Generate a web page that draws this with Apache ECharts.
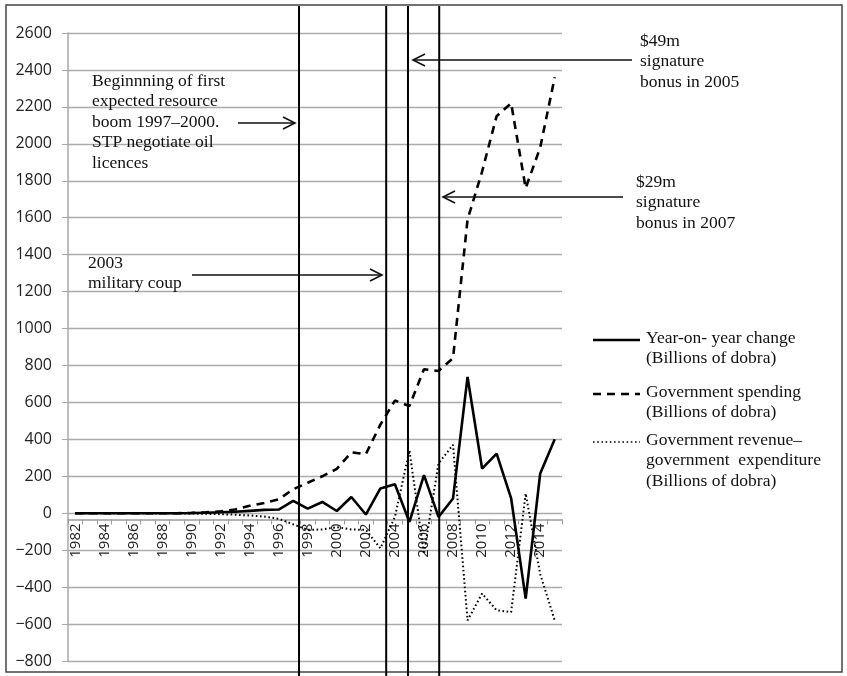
<!DOCTYPE html>
<html>
<head>
<meta charset="utf-8">
<script src="https://cdn.jsdelivr.net/npm/echarts@6/dist/echarts.min.js"></script>
<style>
  html, body { margin: 0; padding: 0; background: #fff; }
  #chart { width: 847px; height: 676px; }
</style>
</head>
<body>
<div id="chart"></div>
<script>
const years = ['1982', '1983', '1984', '1985', '1986', '1987', '1988', '1989', '1990', '1991',
  '1992', '1993', '1994', '1995', '1996', '1997', '1998', '1999', '2000', '2001', '2002',
  '2003', '2004', '2005', '2006', '2007', '2008', '2009', '2010', '2011', '2012', '2013',
  '2014', '2015'];

// Year-on-year change (billions of dobra)
const yoyChange = [0, 0, 0, 0, 0, 0, 0, 0, 1, 3,
  5, 8, 13, 18, 20, 67, 25, 61, 12, 88, -7,
  134, 157, -47, 206, -20, 80, 738, 242, 323, 80, -462,
  215, 400];

// Government spending (billions of dobra)
const govSpending = [0, 0, 0, 0, 0, 0, 0, 0, 2, 5,
  10, 20, 40, 55, 75, 130, 165, 200, 240, 330, 320,
  480, 610, 580, 780, 770, 840, 1590, 1850, 2150, 2220, 1760,
  1980, 2360];

// Government revenue - government expenditure (billions of dobra)
const revMinusExp = [0, 0, 0, 0, 0, 0, 0, 0, -2, -3,
  -5, -8, -12, -18, -30, -60, -90, -88, -75, -88, -90,
  -190, -20, 340, -220, 270, 370, -580, -435, -525, -535, 107,
  -330, -580];

const yTicks = { min: -800, max: 2600, step: 200 };

// event markers (fractional years where the vertical lines sit)
const markerYears = [1997.4, 2003.4, 2004.9, 2007.05];

const serif = '"Liberation Serif", "Times New Roman", serif';
const sans = '"Open Sans", "Liberation Sans", sans-serif';

const chart = echarts.init(document.getElementById('chart'));

function textBlock(x, y, lines) {
  return {
    type: 'text',
    x: x,
    y: y,
    z: 100,
    style: {
      text: lines.join('\n'),
      font: '17.5px ' + serif,
      lineHeight: 20.5,
      fill: '#111',
      textVerticalAlign: 'top',
    },
  };
}

function arrow(x1, x2, y) {
  // arrow from x1 to x2 with an open head at x2
  const dir = x2 > x1 ? 1 : -1;
  return [{
    type: 'line',
    z: 100,
    shape: { x1: x1, y1: y, x2: x2, y2: y },
    style: { stroke: '#111', lineWidth: 1.6 },
  }, {
    type: 'polyline',
    z: 100,
    shape: { points: [[x2 - dir * 12, y - 6], [x2, y], [x2 - dir * 12, y + 6]] },
    style: { stroke: '#111', lineWidth: 1.6, fill: null },
  }];
}

function legendItem(y, lineType, width, lines) {
  return [{
    type: 'line',
    z: 100,
    shape: { x1: 593, y1: y, x2: 640, y2: y },
    style: { stroke: '#000', lineWidth: width, lineDash: lineType },
  }, textBlock(646, y - 12, lines)];
}

const option = {
  animation: false,
  backgroundColor: '#fff',
  grid: {
    left: 68,
    right: 285,
    top: 33,
    bottom: 15,
    containLabel: false,
  },
  xAxis: {
    type: 'category',
    data: years,
    boundaryGap: true,
    position: 'bottom',
    offset: 0,
    axisLine: {
      onZero: false,
      lineStyle: { color: '#9a9a9a', width: 1.5 },
    },
    axisTick: {
      show: true,
      interval: 0,
      length: 5,
      lineStyle: { color: '#9a9a9a' },
    },
    axisLabel: {
      interval: 1,
      rotate: 90,
      margin: 4,
      color: '#222',
      fontSize: 15,
      fontFamily: sans,
    },
    splitLine: { show: false },
  },
  yAxis: {
    type: 'value',
    min: yTicks.min,
    max: yTicks.max,
    interval: yTicks.step,
    axisLine: {
      show: true,
      onZero: false,
      lineStyle: { color: '#a8a8a8', width: 1.5 },
    },
    axisTick: {
      show: true,
      length: 6,
      lineStyle: { color: '#a8a8a8' },
    },
    axisLabel: {
      margin: 16,
      color: '#222',
      fontSize: 16,
      fontFamily: sans,
      formatter: function (v) {
        return v < 0 ? '\u2212' + Math.abs(v) : String(v);
      },
    },
    splitLine: {
      show: true,
      lineStyle: { color: '#ababab', width: 1.3 },
    },
  },
  series: [{
    name: 'Year-on- year change (Billions of dobra)',
    type: 'line',
    data: yoyChange,
    showSymbol: false,
    symbol: 'none',
    lineStyle: { color: '#000', width: 2.6 },
    z: 5,
  }, {
    name: 'Government spending (Billions of dobra)',
    type: 'line',
    data: govSpending,
    showSymbol: false,
    symbol: 'none',
    lineStyle: { color: '#000', width: 2.6, type: [8, 6] },
    z: 4,
  }, {
    name: 'Government revenue\u2013government expenditure (Billions of dobra)',
    type: 'line',
    data: revMinusExp,
    showSymbol: false,
    symbol: 'none',
    lineStyle: { color: '#000', width: 2, type: [1.6, 2.6] },
    z: 3,
  }],
};

chart.setOption(option);

// lift the category axis (line, ticks and labels) up to the zero line
const zeroPx = chart.convertToPixel({ yAxisIndex: 0 }, 0);
const bottomPx = chart.convertToPixel({ yAxisIndex: 0 }, yTicks.min);
chart.setOption({ xAxis: { offset: zeroPx - bottomPx } });

// pixel x for a fractional year, interpolated between category centres
function yearToPixel(yr) {
  const i = Math.floor(yr - 1982);
  const f = (yr - 1982) - i;
  const a = chart.convertToPixel({ xAxisIndex: 0 }, years[i]);
  const b = chart.convertToPixel({ xAxisIndex: 0 }, years[i + 1]);
  return a + f * (b - a);
}

const graphics = [];

// outer frame
graphics.push({
  type: 'rect',
  z: 0,
  shape: { x: 6, y: 5, width: 836, height: 667 },
  style: { stroke: '#444', lineWidth: 1.5, fill: null },
});

// vertical event lines
markerYears.forEach(function (yr) {
  const x = yearToPixel(yr);
  graphics.push({
    type: 'line',
    z: 90,
    shape: { x1: x, y1: 6, x2: x, y2: 676 },
    style: { stroke: '#000', lineWidth: 2 },
  });
});

// annotations
graphics.push(textBlock(92, 71, ['Beginnning of first', 'expected resource',
  'boom 1997\u20132000.', 'STP negotiate oil', 'licences']));
graphics.push.apply(graphics, arrow(238, 295, 123));

graphics.push(textBlock(88, 253, ['2003', 'military coup']));
graphics.push.apply(graphics, arrow(192, 382, 275));

graphics.push(textBlock(640, 31, ['$49m', 'signature', 'bonus in 2005']));
graphics.push.apply(graphics, arrow(632, 413, 60));

graphics.push(textBlock(636, 172, ['$29m', 'signature', 'bonus in 2007']));
graphics.push.apply(graphics, arrow(623, 443, 197));

// legend
graphics.push.apply(graphics, legendItem(340, null, 2.6,
  ['Year-on- year change', '(Billions of dobra)']));
graphics.push.apply(graphics, legendItem(394, [8, 6], 2.6,
  ['Government spending', '(Billions of dobra)']));
graphics.push.apply(graphics, legendItem(442, [1.6, 2.6], 1.6,
  ['Government revenue\u2013', 'government  expenditure', '(Billions of dobra)']));

chart.setOption({ graphic: graphics });
</script>
</body>
</html>
